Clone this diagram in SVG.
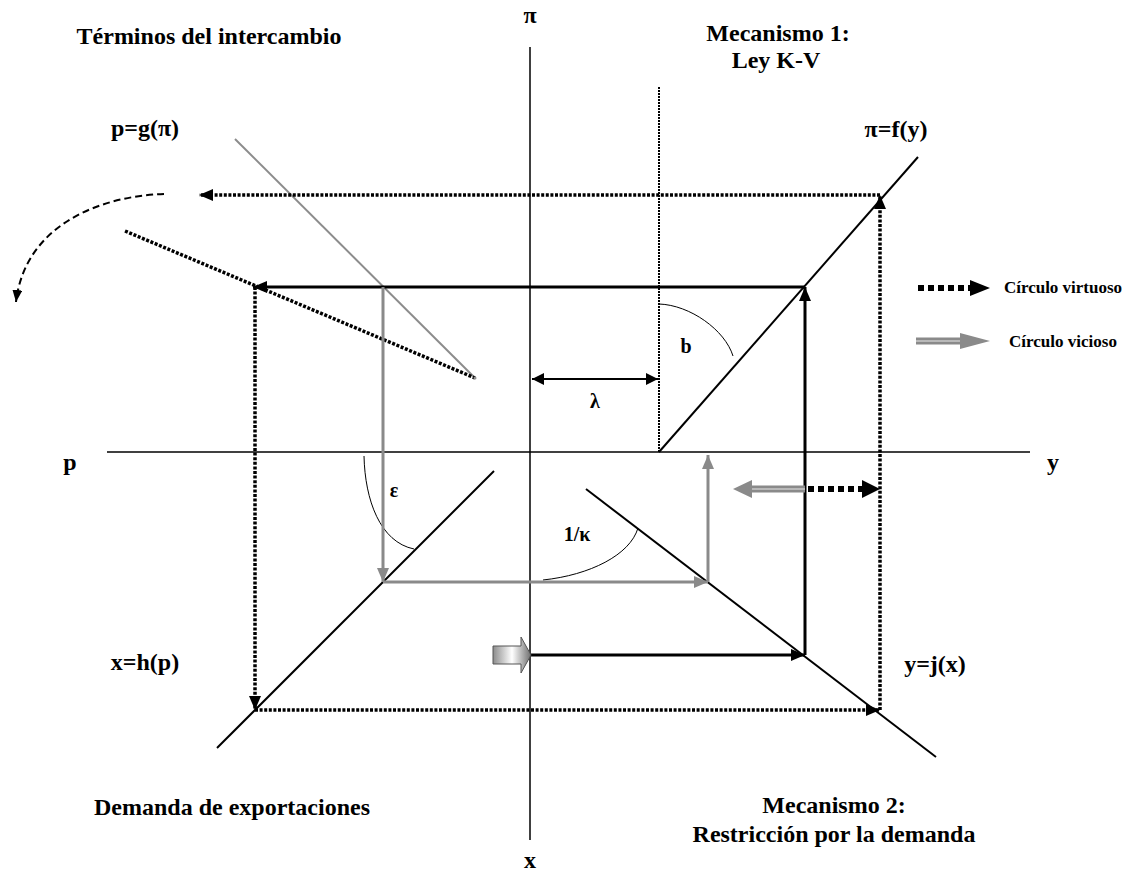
<svg xmlns="http://www.w3.org/2000/svg" width="1137" height="875" viewBox="0 0 1137 875">
<style>
.t{font-family:"Liberation Serif","Times New Roman",serif;font-weight:bold;fill:#000}
.big{font-size:24px}
.mid{font-size:20px}
.leg{font-size:17px}
.ax{stroke:#000;stroke-width:1.5;fill:none}
.fn{stroke:#000;stroke-width:2;fill:none}
.fg{stroke:#8c8c8c;stroke-width:2;fill:none}
.dot{stroke:#000;stroke-width:3.5;stroke-dasharray:3 1.6;fill:none}
.sb{stroke:#000;stroke-width:3;fill:none}
.sg{stroke:#8a8a8a;stroke-width:3;fill:none}
.arc{stroke:#000;stroke-width:1;fill:none}
</style>
<defs>
<marker id="ab" markerUnits="userSpaceOnUse" markerWidth="14" markerHeight="12" refX="14" refY="6" orient="auto"><path d="M0,0 L14,6 L0,12 z" fill="#000"/></marker>
<marker id="ag" markerUnits="userSpaceOnUse" markerWidth="14" markerHeight="12" refX="14" refY="6" orient="auto"><path d="M0,0 L14,6 L0,12 z" fill="#8a8a8a"/></marker>
<marker id="al" markerUnits="userSpaceOnUse" markerWidth="12" markerHeight="12" refX="12" refY="6" orient="auto-start-reverse"><path d="M0,0 L12,6 L0,12 z" fill="#000"/></marker>
<marker id="ac" markerUnits="userSpaceOnUse" markerWidth="12" markerHeight="10" refX="12" refY="5" orient="auto"><path d="M0,0 L12,5 L0,10 z" fill="#000"/></marker>
<linearGradient id="gr" x1="0" y1="0" x2="1" y2="0">
<stop offset="0" stop-color="#8c8c8c"/><stop offset="0.5" stop-color="#ffffff"/><stop offset="1" stop-color="#6e6e6e"/>
</linearGradient>
</defs>

<g id="axes">
<line class="ax" x1="107" y1="452" x2="1030" y2="452"/>
<line class="ax" x1="530" y1="47" x2="530" y2="840"/>
<line x1="659" y1="87" x2="659" y2="452" stroke="#000" stroke-width="2" stroke-dasharray="2 1"/>
</g>

<g id="functions">
<line id="f-pi" class="fn" x1="659" y1="452" x2="918" y2="157"/>
<line id="f-j" class="fn" x1="586" y1="489" x2="936" y2="757"/>
<line id="f-h" class="fn" x1="217" y1="748" x2="494" y2="471"/>
<line id="f-g" class="fg" x1="235" y1="139" x2="475" y2="378"/>
<line id="f-g2" class="dot" x1="125" y1="231" x2="475" y2="378"/>
<circle cx="475" cy="378" r="1.5" fill="#8c8c8c"/>
</g>

<g id="angles">
<path class="arc" d="M659,304 C690,305 725,330 733,356"/>
<path class="arc" d="M364,456 C365,500 380,542 414,549"/>
<path class="arc" d="M543,580 C590,575 630,555 638,528"/>
</g>

<g id="connectors">
<line class="dot" x1="880" y1="195" x2="199" y2="195" marker-end="url(#ab)"/>
<line class="dot" x1="880" y1="710" x2="880" y2="195" marker-end="url(#ab)"/>
<line class="dot" x1="255" y1="287" x2="255" y2="710" marker-end="url(#ab)"/>
<line class="dot" x1="255" y1="710" x2="880" y2="710" marker-end="url(#ab)"/>
<line class="sb" x1="530" y1="655" x2="805" y2="655" marker-end="url(#ab)"/>
<line class="sb" x1="805" y1="655" x2="805" y2="287" marker-end="url(#ab)"/>
<line class="sb" x1="805" y1="287" x2="253" y2="287" marker-end="url(#ab)"/>
<line class="sg" x1="383" y1="287" x2="383" y2="582" marker-end="url(#ag)"/>
<line class="sg" x1="383" y1="582" x2="708" y2="582" marker-end="url(#ag)"/>
<line class="sg" x1="708" y1="582" x2="708" y2="455" marker-end="url(#ag)"/>
<line x1="532" y1="379" x2="658" y2="379" stroke="#000" stroke-width="2" marker-start="url(#al)" marker-end="url(#al)"/>
<path d="M164,194 C100,196 25,225 16,302" stroke="#000" stroke-width="2" stroke-dasharray="7 4" fill="none" marker-end="url(#ac)"/>
<line x1="805" y1="489" x2="748" y2="489" stroke="#8a8a8a" stroke-width="7"/>
<line x1="805" y1="489" x2="748" y2="489" stroke="#c8c8c8" stroke-width="1.5"/>
<polygon points="733,489 752,480 752,498" fill="#8a8a8a"/>
<line x1="808" y1="489" x2="864" y2="489" stroke="#000" stroke-width="6" stroke-dasharray="6 4"/>
<polygon points="880,489 862,480 862,498" fill="#000"/>
<polygon points="493,646 521,646 521,637 531,655 521,673 521,664 493,664" fill="url(#gr)" stroke="#555" stroke-width="1"/>
</g>

<g id="legend">
<line x1="918" y1="288" x2="972" y2="288" stroke="#000" stroke-width="6" stroke-dasharray="6 4"/>
<polygon points="990,288 970,280 970,296" fill="#000"/>
<line x1="916" y1="341" x2="962" y2="341" stroke="#8a8a8a" stroke-width="7"/>
<line x1="916" y1="341" x2="962" y2="341" stroke="#c8c8c8" stroke-width="1.5"/>
<polygon points="990,341 960,333 960,349" fill="#8a8a8a"/>
<text class="t leg" x="1063" y="293" text-anchor="middle">Círculo virtuoso</text>
<text class="t leg" x="1063" y="347" text-anchor="middle">Círculo vicioso</text>
</g>

<g id="labels">
<text class="t big" x="209" y="44" text-anchor="middle">Términos del intercambio</text>
<text class="t big" x="530" y="23" text-anchor="middle">π</text>
<text class="t big" x="778" y="41" text-anchor="middle">Mecanismo 1:</text>
<text class="t big" x="776" y="68" text-anchor="middle">Ley K-V</text>
<text class="t big" x="896" y="137" text-anchor="middle">π=f(y)</text>
<text class="t big" x="145" y="136" text-anchor="middle">p=g(π)</text>
<text class="t big" x="70" y="470" text-anchor="middle">p</text>
<text class="t big" x="1053" y="470" text-anchor="middle">y</text>
<text class="t big" x="530" y="868" text-anchor="middle">x</text>
<text class="t big" x="145" y="670" text-anchor="middle">x=h(p)</text>
<text class="t big" x="935" y="672" text-anchor="middle">y=j(x)</text>
<text class="t big" x="232" y="815" text-anchor="middle">Demanda de exportaciones</text>
<text class="t big" x="834" y="813" text-anchor="middle">Mecanismo 2:</text>
<text class="t big" x="834" y="842" text-anchor="middle">Restricción por la demanda</text>
<text class="t mid" x="686" y="353" text-anchor="middle">b</text>
<text class="t mid" x="595" y="408" text-anchor="middle">λ</text>
<text class="t mid" x="394" y="497" text-anchor="middle">ε</text>
<text class="t mid" x="577" y="541" text-anchor="middle">1/κ</text>
</g>
</svg>
